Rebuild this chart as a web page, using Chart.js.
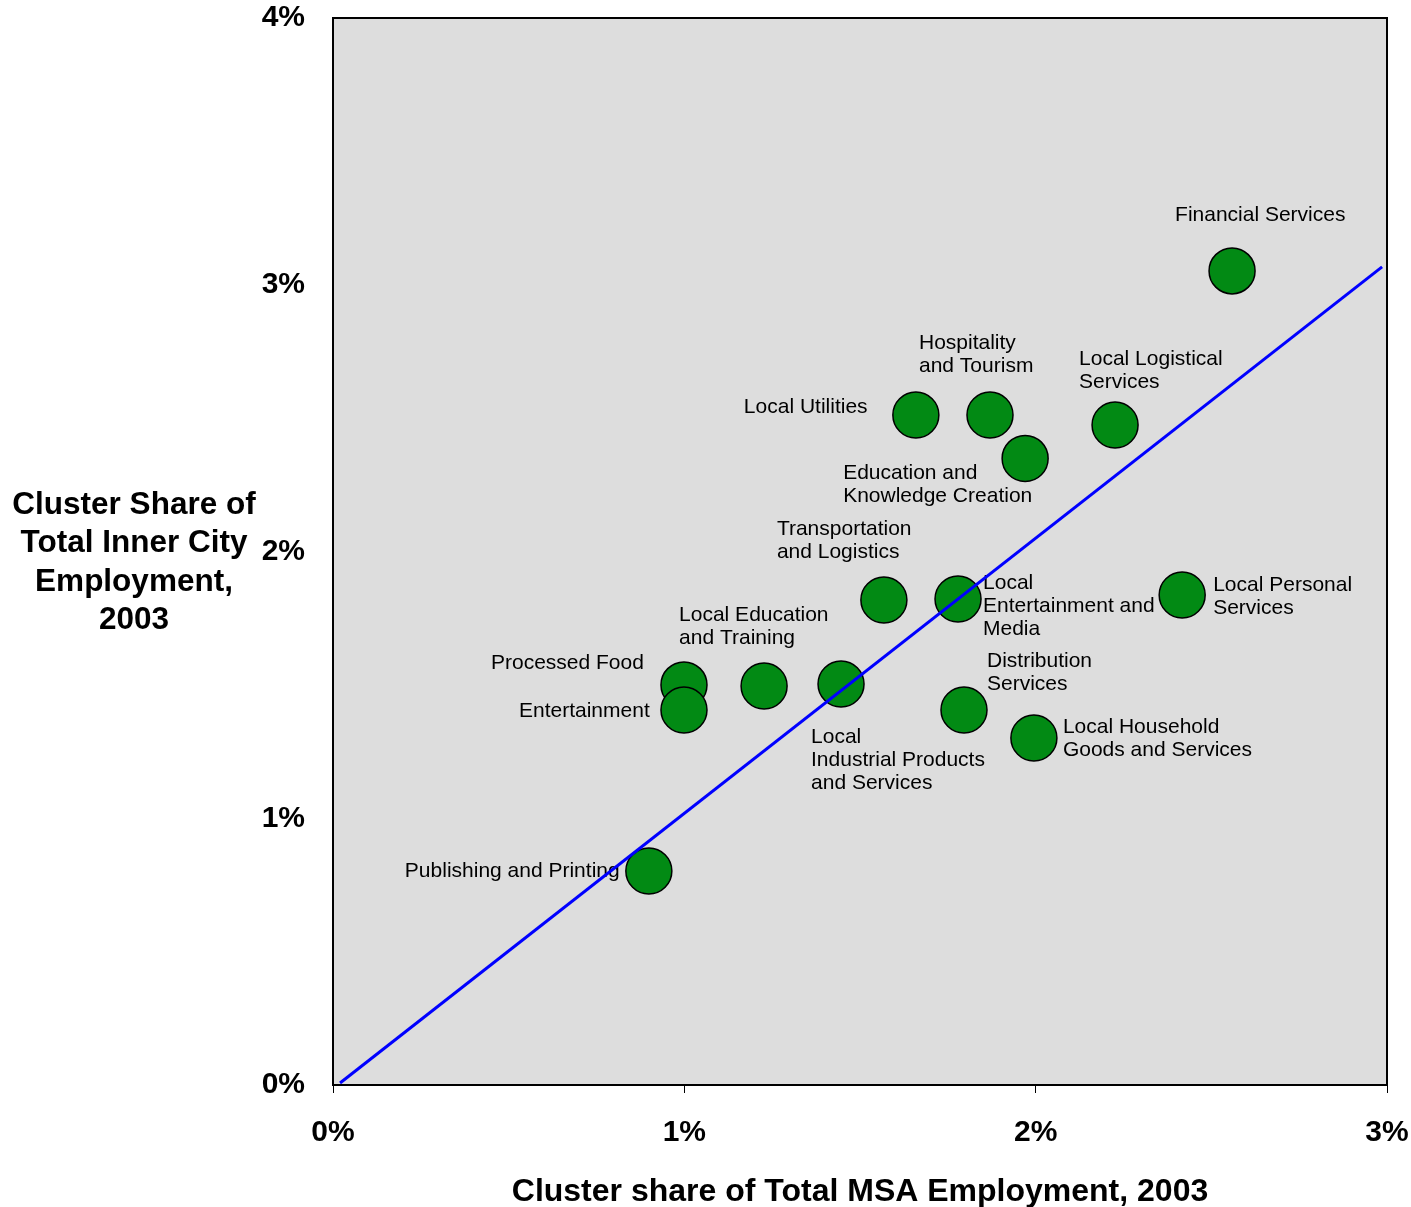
<!DOCTYPE html>
<html>
<head>
  <meta charset="UTF-8">
  <title>Cluster Share of Employment, 2003</title>
  <style>
    body { margin: 0; background: #fff; }
    canvas { display: block; }
  </style>
  <script src="https://cdn.jsdelivr.net/npm/chart.js@4"></script>
</head>
<body>
  <canvas id="clusters" width="1411" height="1207"></canvas>

  <script>
    // cluster names, in the same order as the value arrays
    const clusters = [
      'Financial Services',
      'Local Utilities',
      'Hospitality\nand Tourism',
      'Local Logistical\nServices',
      'Education and\nKnowledge Creation',
      'Transportation\nand Logistics',
      'Local\nEntertainment and\nMedia',
      'Local Personal\nServices',
      'Processed Food',
      'Local Education\nand Training',
      'Local\nIndustrial Products\nand Services',
      'Entertainment',
      'Distribution\nServices',
      'Local Household\nGoods and Services',
      'Publishing and Printing'
    ];
    // share of total MSA employment (%)
    const msaShare = [2.559, 1.659, 1.870, 2.226, 1.970, 1.568, 1.779, 2.417, 0.999, 1.227, 1.446, 0.999, 1.796, 1.995, 0.899];
    // share of total inner city employment (%)
    const innerShare = [3.052, 2.512, 2.512, 2.474, 2.349, 1.818, 1.822, 1.837, 1.500, 1.496, 1.503, 1.406, 1.406, 1.301, 0.802];

    // reference line
    const lineX = [0.02, 2.986];
    const lineY = [0.0075, 3.067];

    const xTicks = [0, 1, 2, 3];
    const yTicks = [0, 1, 2, 3, 4];
    const xTitle = 'Cluster share of Total MSA Employment, 2003';
    const yTitle = ['Cluster Share of', 'Total Inner City', 'Employment,', '2003'];

    // where each label sits relative to its bubble (px, left edge / first line middle)
    const labelOffsets = [
      [-57, -56], [-172, -8], [-71, -72], [-36, -66], [-182, 15],
      [-107, -71], [25, -16], [31, -10], [-193, -22], [-85, -71],
      [-30, 53], [-165, 1], [23, -49], [29, -11], [-244, 0]
    ];

    const FONT = "'Liberation Sans', Arial, sans-serif";

    function noPad(s) {
      s.paddingTop = 0;
      s.paddingBottom = 0;
      s.paddingLeft = 0;
      s.paddingRight = 0;
    }

    const plotFrame = {
      id: 'plotFrame',
      beforeDraw(chart) {
        const { ctx, chartArea: a } = chart;
        ctx.save();
        ctx.fillStyle = '#dddddd';
        ctx.fillRect(a.left, a.top, a.right - a.left, a.bottom - a.top);
        ctx.restore();
      },
      beforeDatasetsDraw(chart) {
        // point labels go under the bubbles and the line
        const { ctx } = chart;
        const meta = chart.getDatasetMeta(1);
        ctx.save();
        ctx.font = '21px ' + FONT;
        ctx.fillStyle = '#000';
        ctx.textAlign = 'left';
        ctx.textBaseline = 'middle';
        meta.data.forEach((pt, i) => {
          const lines = clusters[i].split('\n');
          const [dx, dy] = labelOffsets[i];
          lines.forEach((t, k) => ctx.fillText(t, pt.x + dx, pt.y + dy + k * 23));
        });
        ctx.restore();
      },
      afterDraw(chart) {
        const { ctx, chartArea: a } = chart;
        ctx.save();
        ctx.strokeStyle = '#000';
        ctx.lineWidth = 2;
        ctx.strokeRect(a.left, a.top, a.right - a.left, a.bottom - a.top);
        // y axis title, horizontal and centred
        ctx.font = 'bold 31.5px ' + FONT;
        ctx.fillStyle = '#000';
        ctx.textAlign = 'center';
        ctx.textBaseline = 'middle';
        yTitle.forEach((t, k) => ctx.fillText(t, 134, 505 + k * 38.5));
        ctx.restore();
      }
    };

    new Chart(document.getElementById('clusters'), {
      type: 'scatter',
      data: {
        datasets: [
          {
            type: 'line',
            data: lineX.map((x, i) => ({ x: x, y: lineY[i] })),
            borderColor: '#0000ff',
            borderWidth: 3,
            pointRadius: 0,
            fill: false
          },
          {
            data: msaShare.map((x, i) => ({ x: x, y: innerShare[i] })),
            backgroundColor: '#028a14',
            borderColor: '#000',
            borderWidth: 1.5,
            pointRadius: 23,
            pointHoverRadius: 23
          }
        ]
      },
      options: {
        responsive: false,
        animation: false,
        layout: { autoPadding: false, padding: { top: 18, right: 24, left: 0, bottom: 0 } },
        plugins: { legend: { display: false }, tooltip: { enabled: false } },
        scales: {
          x: {
            type: 'linear',
            min: 0,
            max: 3,
            afterFit: s => { s.height = 122; noPad(s); },
            afterBuildTicks: s => { s.ticks = xTicks.map(v => ({ value: v })); },
            grid: { drawOnChartArea: false, drawTicks: true, tickLength: 8, color: '#000' },
            border: { display: true, color: '#000', width: 2 },
            ticks: {
              padding: 22,
              color: '#000',
              font: { family: FONT, size: 30, weight: 'bold' },
              callback: v => v + '%'
            },
            title: {
              display: true,
              text: xTitle,
              color: '#000',
              font: { family: FONT, size: 32, weight: 'bold' },
              padding: { top: 0, bottom: -4 }
            }
          },
          y: {
            type: 'linear',
            min: 0,
            max: 4,
            afterFit: s => { s.width = 333; noPad(s); },
            afterBuildTicks: s => { s.ticks = yTicks.map(v => ({ value: v })); },
            grid: { drawOnChartArea: false, drawTicks: false },
            border: { display: true, color: '#000', width: 2 },
            ticks: {
              padding: 28,
              color: '#000',
              font: { family: FONT, size: 30, weight: 'bold', lineHeight: 1 },
              callback: v => v + '%'
            }
          }
        }
      },
      plugins: [plotFrame]
    });
  </script>
</body>
</html>
